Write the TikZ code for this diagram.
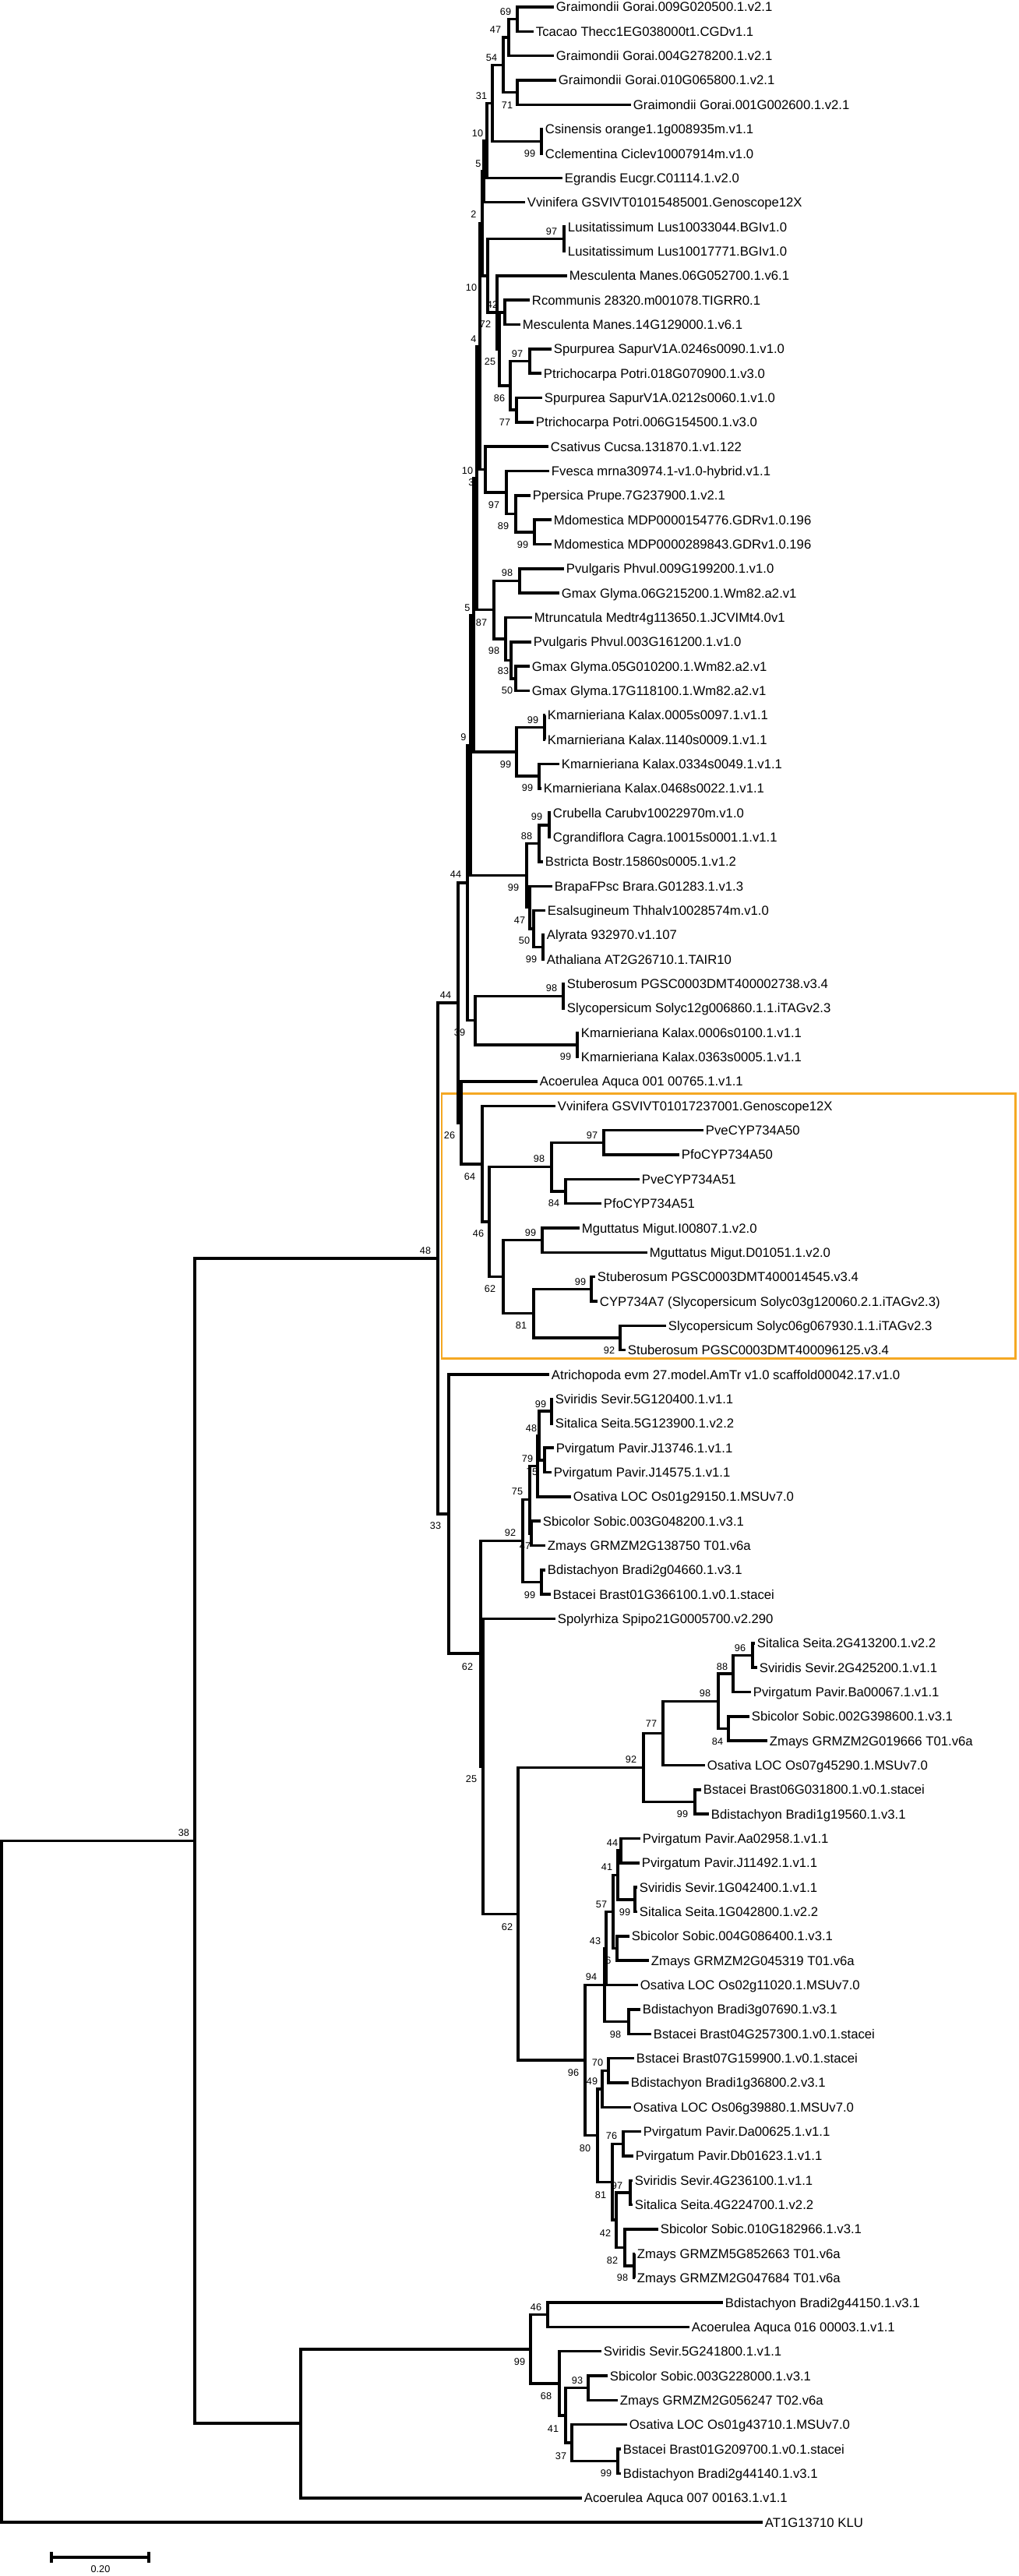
\documentclass[tikz,border=0pt]{standalone}
\usepackage{fontspec}
\setmainfont{Liberation Sans}
\definecolor{boxorange}{RGB}{245,168,35}

\begin{document}
\begin{tikzpicture}[x=0.2mm, y=-6.268mm,
    leaf/.style={anchor=west, inner sep=1.5pt, font=\fontsize{9.5}{11}\selectfont, text height=6.8pt, text depth=0pt},
    boot/.style={inner sep=0pt, font=\fontsize{7.2}{8}\selectfont, text height=5.2pt, text depth=0pt},
    branch/.style={line width=2pt, line join=miter},
    clade/.style={draw=boxorange, line width=1.7pt}
]
    \useasboundingbox (0,0.7128) rectangle (1308,106.2);

    % bootstrap values
    \node[boot] (b1) at (649,1.19) {69};
    \node[boot] (b2) at (636,1.93) {47};
    \node[boot] (b3) at (631,3.07) {54};
    \node[boot] (b4) at (618,4.64) {31};
    \node[boot] (b5) at (651,5.02) {71};
    \node[boot] (b6) at (613,6.17) {10};
    \node[boot] (b7) at (680,7.0) {99};
    \node[boot] (b8) at (614,7.41) {5};
    \node[boot] (b9) at (608,9.49) {2};
    \node[boot] (b10) at (708,10.19) {97};
    \node[boot] (b11) at (605,12.49) {10};
    \node[boot] (b12) at (632,13.19) {42};
    \node[boot] (b13) at (623,13.99) {72};
    \node[boot] (b14) at (608,14.59) {4};
    \node[boot] (b15) at (664,15.2) {97};
    \node[boot] (b16) at (629,15.52) {25};
    \node[boot] (b17) at (641,17.02) {86};
    \node[boot] (b18) at (648,18.0) {77};
    \node[boot] (b19) at (600,19.98) {10};
    \node[boot] (b20) at (605,20.46) {3};
    \node[boot] (b21) at (634,21.39) {97};
    \node[boot] (b22) at (646,22.25) {89};
    \node[boot] (b23) at (671,23.02) {99};
    \node[boot] (b24) at (651,24.17) {98};
    \node[boot] (b25) at (600,25.6) {5};
    \node[boot] (b26) at (618,26.21) {87};
    \node[boot] (b27) at (634,27.36) {98};
    \node[boot] (b28) at (646,28.19) {83};
    \node[boot] (b29) at (651,28.98) {50};
    \node[boot] (b30) at (684,30.2) {99};
    \node[boot] (b31) at (595,30.9) {9};
    \node[boot] (b32) at (649,32.01) {99};
    \node[boot] (b33) at (677,32.97) {99};
    \node[boot] (b34) at (689,34.15) {99};
    \node[boot] (b35) at (676,34.95) {88};
    \node[boot] (b36) at (585,36.51) {44};
    \node[boot] (b37) at (659,37.06) {99};
    \node[boot] (b38) at (667,38.4) {47};
    \node[boot] (b39) at (673,39.23) {50};
    \node[boot] (b40) at (682,39.99) {99};
    \node[boot] (b41) at (708,41.17) {98};
    \node[boot] (b42) at (572,41.46) {44};
    \node[boot] (b43) at (590,42.99) {39};
    \node[boot] (b44) at (726,43.98) {99};
    \node[boot] (b45) at (577,47.2) {26};
    \node[boot] (b46) at (760,47.2) {97};
    \node[boot] (b47) at (692,48.16) {98};
    \node[boot] (b48) at (603,48.89) {64};
    \node[boot] (b49) at (711,49.98) {84};
    \node[boot] (b50) at (681,51.19) {99};
    \node[boot] (b51) at (614,51.22) {46};
    \node[boot] (b52) at (546,51.93) {48};
    \node[boot] (b53) at (745,53.2) {99};
    \node[boot] (b54) at (629,53.49) {62};
    \node[boot] (b55) at (669,54.99) {81};
    \node[boot] (b56) at (782,56.01) {92};
    \node[boot] (b57) at (694,58.21) {99};
    \node[boot] (b58) at (682,59.2) {48};
    \node[boot] (b59) at (677,60.45) {79};
    \node[boot] (b60) at (683,60.99) {75};
    \node[boot] (b61) at (664,61.79) {75};
    \node[boot] (b62) at (559,63.19) {33};
    \node[boot] (b63) at (655,63.48) {92};
    \node[boot] (b64) at (674,64.02) {47};
    \node[boot] (b65) at (680,66.03) {99};
    \node[boot] (b66) at (950,68.2) {96};
    \node[boot] (b67) at (600,68.97) {62};
    \node[boot] (b68) at (927,68.97) {88};
    \node[boot] (b69) at (905,70.05) {98};
    \node[boot] (b70) at (836,71.3) {77};
    \node[boot] (b71) at (921,72.03) {84};
    \node[boot] (b72) at (810,72.76) {92};
    \node[boot] (b73) at (605,73.56) {25};
    \node[boot] (b74) at (876,75.0) {99};
    \node[boot] (b75) at (786,76.18) {44};
    \node[boot] (b76) at (779,77.17) {41};
    \node[boot] (b77) at (772,78.7) {57};
    \node[boot] (b78) at (802,79.02) {99};
    \node[boot] (b79) at (651,79.62) {62};
    \node[boot] (b80) at (764,80.2) {43};
    \node[boot] (b81) at (781,81.0) {6};
    \node[boot] (b82) at (759,81.66) {94};
    \node[boot] (b83) at (790,84.03) {98};
    \node[boot] (b84) at (767,85.18) {70};
    \node[boot] (b85) at (736,85.59) {96};
    \node[boot] (b86) at (760,85.94) {49};
    \node[boot] (b87) at (785,88.17) {76};
    \node[boot] (b88) at (751,88.68) {80};
    \node[boot] (b89) at (792,90.22) {97};
    \node[boot] (b90) at (771,90.6) {81};
    \node[boot] (b91) at (777,92.16) {42};
    \node[boot] (b92) at (786,93.28) {82};
    \node[boot] (b93) at (799,93.98) {98};
    \node[boot] (b94) at (688,95.19) {46};
    \node[boot] (b95) at (667,97.43) {99};
    \node[boot] (b96) at (741,98.19) {93};
    \node[boot] (b97) at (701,98.83) {68};
    \node[boot] (b98) at (710,100.17) {41};
    \node[boot] (b99) at (720,101.29) {37};
    \node[boot] (b100) at (778,101.99) {99};
    \node[boot] (b101) at (236,75.75) {38};

    % leaves
    \node[leaf] (l1) at (711,1) {Graimondii Gorai.009G020500.1.v2.1};
    \node[leaf] (l2) at (685,2) {Tcacao Thecc1EG038000t1.CGDv1.1};
    \node[leaf] (l3) at (711,3) {Graimondii Gorai.004G278200.1.v2.1};
    \node[leaf] (l4) at (714,4) {Graimondii Gorai.010G065800.1.v2.1};
    \node[leaf] (l5) at (810,5) {Graimondii Gorai.001G002600.1.v2.1};
    \node[leaf] (l6) at (697,6) {Csinensis orange1.1g008935m.v1.1};
    \node[leaf] (l7) at (697,7) {Cclementina Ciclev10007914m.v1.0};
    \node[leaf] (l8) at (722,8) {Egrandis Eucgr.C01114.1.v2.0};
    \node[leaf] (l9) at (674,9) {Vvinifera GSVIVT01015485001.Genoscope12X};
    \node[leaf] (l10) at (726,10) {Lusitatissimum Lus10033044.BGIv1.0};
    \node[leaf] (l11) at (726,11) {Lusitatissimum Lus10017771.BGIv1.0};
    \node[leaf] (l12) at (728,12) {Mesculenta Manes.06G052700.1.v6.1};
    \node[leaf] (l13) at (680,13) {Rcommunis 28320.m001078.TIGRR0.1};
    \node[leaf] (l14) at (668,14) {Mesculenta Manes.14G129000.1.v6.1};
    \node[leaf] (l15) at (708,15) {Spurpurea SapurV1A.0246s0090.1.v1.0};
    \node[leaf] (l16) at (695,16) {Ptrichocarpa Potri.018G070900.1.v3.0};
    \node[leaf] (l17) at (696,17) {Spurpurea SapurV1A.0212s0060.1.v1.0};
    \node[leaf] (l18) at (685,18) {Ptrichocarpa Potri.006G154500.1.v3.0};
    \node[leaf] (l19) at (704,19) {Csativus Cucsa.131870.1.v1.122};
    \node[leaf] (l20) at (705,20) {Fvesca mrna30974.1-v1.0-hybrid.v1.1};
    \node[leaf] (l21) at (681,21) {Ppersica Prupe.7G237900.1.v2.1};
    \node[leaf] (l22) at (708,22) {Mdomestica MDP0000154776.GDRv1.0.196};
    \node[leaf] (l23) at (708,23) {Mdomestica MDP0000289843.GDRv1.0.196};
    \node[leaf] (l24) at (724,24) {Pvulgaris Phvul.009G199200.1.v1.0};
    \node[leaf] (l25) at (718,25) {Gmax Glyma.06G215200.1.Wm82.a2.v1};
    \node[leaf] (l26) at (683,26) {Mtruncatula Medtr4g113650.1.JCVIMt4.0v1};
    \node[leaf] (l27) at (682,27) {Pvulgaris Phvul.003G161200.1.v1.0};
    \node[leaf] (l28) at (680,28) {Gmax Glyma.05G010200.1.Wm82.a2.v1};
    \node[leaf] (l29) at (680,29) {Gmax Glyma.17G118100.1.Wm82.a2.v1};
    \node[leaf] (l30) at (700,30) {Kmarnieriana Kalax.0005s0097.1.v1.1};
    \node[leaf] (l31) at (700,31) {Kmarnieriana Kalax.1140s0009.1.v1.1};
    \node[leaf] (l32) at (718,32) {Kmarnieriana Kalax.0334s0049.1.v1.1};
    \node[leaf] (l33) at (695,33) {Kmarnieriana Kalax.0468s0022.1.v1.1};
    \node[leaf] (l34) at (707,34) {Crubella Carubv10022970m.v1.0};
    \node[leaf] (l35) at (707,35) {Cgrandiflora Cagra.10015s0001.1.v1.1};
    \node[leaf] (l36) at (697,36) {Bstricta Bostr.15860s0005.1.v1.2};
    \node[leaf] (l37) at (709,37) {BrapaFPsc Brara.G01283.1.v1.3};
    \node[leaf] (l38) at (700,38) {Esalsugineum Thhalv10028574m.v1.0};
    \node[leaf] (l39) at (699,39) {Alyrata 932970.v1.107};
    \node[leaf] (l40) at (699,40) {Athaliana AT2G26710.1.TAIR10};
    \node[leaf] (l41) at (725,41) {Stuberosum PGSC0003DMT400002738.v3.4};
    \node[leaf] (l42) at (725,42) {Slycopersicum Solyc12g006860.1.1.iTAGv2.3};
    \node[leaf] (l43) at (743,43) {Kmarnieriana Kalax.0006s0100.1.v1.1};
    \node[leaf] (l44) at (743,44) {Kmarnieriana Kalax.0363s0005.1.v1.1};
    \node[leaf] (l45) at (690,45) {Acoerulea Aquca 001 00765.1.v1.1};
    \node[leaf] (l46) at (713,46) {Vvinifera GSVIVT01017237001.Genoscope12X};
    \node[leaf] (l47) at (903,47) {PveCYP734A50};
    \node[leaf] (l48) at (872,48) {PfoCYP734A50};
    \node[leaf] (l49) at (821,49) {PveCYP734A51};
    \node[leaf] (l50) at (772,50) {PfoCYP734A51};
    \node[leaf] (l51) at (744,51) {Mguttatus Migut.I00807.1.v2.0};
    \node[leaf] (l52) at (831,52) {Mguttatus Migut.D01051.1.v2.0};
    \node[leaf] (l53) at (764,53) {Stuberosum PGSC0003DMT400014545.v3.4};
    \node[leaf] (l54) at (767,54) {CYP734A7 (Slycopersicum Solyc03g120060.2.1.iTAGv2.3)};
    \node[leaf] (l55) at (855,55) {Slycopersicum Solyc06g067930.1.1.iTAGv2.3};
    \node[leaf] (l56) at (803,56) {Stuberosum PGSC0003DMT400096125.v3.4};
    \node[leaf] (l57) at (705,57) {Atrichopoda evm 27.model.AmTr v1.0 scaffold00042.17.v1.0};
    \node[leaf] (l58) at (710,58) {Sviridis Sevir.5G120400.1.v1.1};
    \node[leaf] (l59) at (710,59) {Sitalica Seita.5G123900.1.v2.2};
    \node[leaf] (l60) at (711,60) {Pvirgatum Pavir.J13746.1.v1.1};
    \node[leaf] (l61) at (708,61) {Pvirgatum Pavir.J14575.1.v1.1};
    \node[leaf] (l62) at (733,62) {Osativa LOC Os01g29150.1.MSUv7.0};
    \node[leaf] (l63) at (694,63) {Sbicolor Sobic.003G048200.1.v3.1};
    \node[leaf] (l64) at (700,64) {Zmays GRMZM2G138750 T01.v6a};
    \node[leaf] (l65) at (700,65) {Bdistachyon Bradi2g04660.1.v3.1};
    \node[leaf] (l66) at (707,66) {Bstacei Brast01G366100.1.v0.1.stacei};
    \node[leaf] (l67) at (713,67) {Spolyrhiza Spipo21G0005700.v2.290};
    \node[leaf] (l68) at (969,68) {Sitalica Seita.2G413200.1.v2.2};
    \node[leaf] (l69) at (972,69) {Sviridis Sevir.2G425200.1.v1.1};
    \node[leaf] (l70) at (964,70) {Pvirgatum Pavir.Ba00067.1.v1.1};
    \node[leaf] (l71) at (962,71) {Sbicolor Sobic.002G398600.1.v3.1};
    \node[leaf] (l72) at (985,72) {Zmays GRMZM2G019666 T01.v6a};
    \node[leaf] (l73) at (905,73) {Osativa LOC Os07g45290.1.MSUv7.0};
    \node[leaf] (l74) at (900,74) {Bstacei Brast06G031800.1.v0.1.stacei};
    \node[leaf] (l75) at (910,75) {Bdistachyon Bradi1g19560.1.v3.1};
    \node[leaf] (l76) at (822,76) {Pvirgatum Pavir.Aa02958.1.v1.1};
    \node[leaf] (l77) at (821,77) {Pvirgatum Pavir.J11492.1.v1.1};
    \node[leaf] (l78) at (818,78) {Sviridis Sevir.1G042400.1.v1.1};
    \node[leaf] (l79) at (818,79) {Sitalica Seita.1G042800.1.v2.2};
    \node[leaf] (l80) at (808,80) {Sbicolor Sobic.004G086400.1.v3.1};
    \node[leaf] (l81) at (833,81) {Zmays GRMZM2G045319 T01.v6a};
    \node[leaf] (l82) at (819,82) {Osativa LOC Os02g11020.1.MSUv7.0};
    \node[leaf] (l83) at (822,83) {Bdistachyon Bradi3g07690.1.v3.1};
    \node[leaf] (l84) at (836,84) {Bstacei Brast04G257300.1.v0.1.stacei};
    \node[leaf] (l85) at (814,85) {Bstacei Brast07G159900.1.v0.1.stacei};
    \node[leaf] (l86) at (807,86) {Bdistachyon Bradi1g36800.2.v3.1};
    \node[leaf] (l87) at (810,87) {Osativa LOC Os06g39880.1.MSUv7.0};
    \node[leaf] (l88) at (823,88) {Pvirgatum Pavir.Da00625.1.v1.1};
    \node[leaf] (l89) at (813,89) {Pvirgatum Pavir.Db01623.1.v1.1};
    \node[leaf] (l90) at (812,90) {Sviridis Sevir.4G236100.1.v1.1};
    \node[leaf] (l91) at (812,91) {Sitalica Seita.4G224700.1.v2.2};
    \node[leaf] (l92) at (845,92) {Sbicolor Sobic.010G182966.1.v3.1};
    \node[leaf] (l93) at (815,93) {Zmays GRMZM5G852663 T01.v6a};
    \node[leaf] (l94) at (815,94) {Zmays GRMZM2G047684 T01.v6a};
    \node[leaf] (l95) at (928,95) {Bdistachyon Bradi2g44150.1.v3.1};
    \node[leaf] (l96) at (885,96) {Acoerulea Aquca 016 00003.1.v1.1};
    \node[leaf] (l97) at (772,97) {Sviridis Sevir.5G241800.1.v1.1};
    \node[leaf] (l98) at (780,98) {Sbicolor Sobic.003G228000.1.v3.1};
    \node[leaf] (l99) at (793,99) {Zmays GRMZM2G056247 T02.v6a};
    \node[leaf] (l100) at (805,100) {Osativa LOC Os01g43710.1.MSUv7.0};
    \node[leaf] (l101) at (797,101) {Bstacei Brast01G209700.1.v0.1.stacei};
    \node[leaf] (l102) at (797,102) {Bdistachyon Bradi2g44140.1.v3.1};
    \node[leaf] (l103) at (747,103) {Acoerulea Aquca 007 00163.1.v1.1};
    \node[leaf] (l104) at (979,104) {AT1G13710 KLU};

    % inner nodes
    \coordinate (n1) at (664,1.5);
    \coordinate (n2) at (653,2.25);
    \coordinate (n3) at (664,4.5);
    \coordinate (n4) at (646,3.375);
    \coordinate (n5) at (695,6.5);
    \coordinate (n6) at (632,4.9375);
    \coordinate (n7) at (625,6.46875);
    \coordinate (n8) at (621,7.734);
    \coordinate (n9) at (724,10.5);
    \coordinate (n10) at (648,13.5);
    \coordinate (n11) at (680,15.5);
    \coordinate (n12) at (663,17.5);
    \coordinate (n13) at (655,16.5);
    \coordinate (n14) at (641,15);
    \coordinate (n15) at (638,13.5);
    \coordinate (n16) at (626,12);
    \coordinate (n17) at (619,9.867);
    \coordinate (n18) at (686,22.5);
    \coordinate (n19) at (662,21.75);
    \coordinate (n20) at (650,20.875);
    \coordinate (n21) at (623,19.9375);
    \coordinate (n22) at (616,14.902);
    \coordinate (n23) at (667,24.5);
    \coordinate (n24) at (662,28.5);
    \coordinate (n25) at (656,27.75);
    \coordinate (n26) at (649,26.875);
    \coordinate (n27) at (634,25.6875);
    \coordinate (n28) at (612,20.295);
    \coordinate (n29) at (699,30.5);
    \coordinate (n30) at (692,32.5);
    \coordinate (n31) at (663,31.5);
    \coordinate (n32) at (608,25.898);
    \coordinate (n33) at (705,34.5);
    \coordinate (n34) at (692,35.25);
    \coordinate (n35) at (697,39.5);
    \coordinate (n36) at (685,38.75);
    \coordinate (n37) at (680,37.875);
    \coordinate (n38) at (676,36.5625);
    \coordinate (n39) at (604,31.23);
    \coordinate (n40) at (723,41.5);
    \coordinate (n41) at (741,43.5);
    \coordinate (n42) at (610,42.5);
    \coordinate (n43) at (600,36.865);
    \coordinate (n44) at (775,47.5);
    \coordinate (n45) at (726,49.5);
    \coordinate (n46) at (708,48.5);
    \coordinate (n47) at (696,51.5);
    \coordinate (n48) at (759,53.5);
    \coordinate (n49) at (796,55.5);
    \coordinate (n50) at (685,54.5);
    \coordinate (n51) at (646,53);
    \coordinate (n52) at (628,50.75);
    \coordinate (n53) at (619,48.375);
    \coordinate (n54) at (592,46.6875);
    \coordinate (n55) at (588,41.776);
    \coordinate (n56) at (708,58.5);
    \coordinate (n57) at (699,60.5);
    \coordinate (n58) at (692,59.5);
    \coordinate (n59) at (690,60.75);
    \coordinate (n60) at (682,63.5);
    \coordinate (n61) at (680,62.125);
    \coordinate (n62) at (695,65.5);
    \coordinate (n63) at (671,63.8125);
    \coordinate (n64) at (966,68.5);
    \coordinate (n65) at (941,69.25);
    \coordinate (n66) at (935,71.5);
    \coordinate (n67) at (922,70.375);
    \coordinate (n68) at (851,71.6875);
    \coordinate (n69) at (892,74.5);
    \coordinate (n70) at (826,73.094);
    \coordinate (n71) at (797,76.5);
    \coordinate (n72) at (815,78.5);
    \coordinate (n73) at (793,77.5);
    \coordinate (n74) at (792,80.5);
    \coordinate (n75) at (787,79);
    \coordinate (n76) at (778,80.5);
    \coordinate (n77) at (807,83.5);
    \coordinate (n78) at (776,82);
    \coordinate (n79) at (781,85.5);
    \coordinate (n80) at (773,86.25);
    \coordinate (n81) at (800,88.5);
    \coordinate (n82) at (809,90.5);
    \coordinate (n83) at (814,93.5);
    \coordinate (n84) at (802,92.75);
    \coordinate (n85) at (791,91.625);
    \coordinate (n86) at (786,90.0625);
    \coordinate (n87) at (767,88.156);
    \coordinate (n88) at (751,85.078);
    \coordinate (n89) at (665,79.086);
    \coordinate (n90) at (620,73.043);
    \coordinate (n91) at (617,68.428);
    \coordinate (n92) at (576,62.714);
    \coordinate (n93) at (562,52.245);
    \coordinate (n94) at (703,95.5);
    \coordinate (n95) at (755,98.5);
    \coordinate (n96) at (793,101.5);
    \coordinate (n97) at (734,100.75);
    \coordinate (n98) at (726,99.625);
    \coordinate (n99) at (718,98.3125);
    \coordinate (n100) at (681,96.906);
    \coordinate (n101) at (386,99.953);
    \coordinate (n102) at (250,76.099);
    \coordinate (n103) at (2,90.05);

    % highlighted clade
    \draw[clade] (567,45.48) rectangle (1303,56.33);

    % branches
    \draw[branch] (n1) |- (l1.west) (n1) |- (l2.west);
    \draw[branch] (n2) |- (n1) (n2) |- (l3.west);
    \draw[branch] (n3) |- (l4.west) (n3) |- (l5.west);
    \draw[branch] (n4) |- (n2) (n4) |- (n3);
    \draw[branch] (n5) |- (l6.west) (n5) |- (l7.west);
    \draw[branch] (n6) |- (n4) (n6) |- (n5);
    \draw[branch] (n7) |- (n6) (n7) |- (l8.west);
    \draw[branch] (n8) |- (n7) (n8) |- (l9.west);
    \draw[branch] (n9) |- (l10.west) (n9) |- (l11.west);
    \draw[branch] (n10) |- (l13.west) (n10) |- (l14.west);
    \draw[branch] (n11) |- (l15.west) (n11) |- (l16.west);
    \draw[branch] (n12) |- (l17.west) (n12) |- (l18.west);
    \draw[branch] (n13) |- (n11) (n13) |- (n12);
    \draw[branch] (n14) |- (n10) (n14) |- (n13);
    \draw[branch] (n15) |- (l12.west) (n15) |- (n14);
    \draw[branch] (n16) |- (n9) (n16) |- (n15);
    \draw[branch] (n17) |- (n8) (n17) |- (n16);
    \draw[branch] (n18) |- (l22.west) (n18) |- (l23.west);
    \draw[branch] (n19) |- (l21.west) (n19) |- (n18);
    \draw[branch] (n20) |- (l20.west) (n20) |- (n19);
    \draw[branch] (n21) |- (l19.west) (n21) |- (n20);
    \draw[branch] (n22) |- (n17) (n22) |- (n21);
    \draw[branch] (n23) |- (l24.west) (n23) |- (l25.west);
    \draw[branch] (n24) |- (l28.west) (n24) |- (l29.west);
    \draw[branch] (n25) |- (l27.west) (n25) |- (n24);
    \draw[branch] (n26) |- (l26.west) (n26) |- (n25);
    \draw[branch] (n27) |- (n23) (n27) |- (n26);
    \draw[branch] (n28) |- (n22) (n28) |- (n27);
    \draw[branch] (n29) |- (l30.west) (n29) |- (l31.west);
    \draw[branch] (n30) |- (l32.west) (n30) |- (l33.west);
    \draw[branch] (n31) |- (n29) (n31) |- (n30);
    \draw[branch] (n32) |- (n28) (n32) |- (n31);
    \draw[branch] (n33) |- (l34.west) (n33) |- (l35.west);
    \draw[branch] (n34) |- (n33) (n34) |- (l36.west);
    \draw[branch] (n35) |- (l39.west) (n35) |- (l40.west);
    \draw[branch] (n36) |- (l38.west) (n36) |- (n35);
    \draw[branch] (n37) |- (l37.west) (n37) |- (n36);
    \draw[branch] (n38) |- (n34) (n38) |- (n37);
    \draw[branch] (n39) |- (n32) (n39) |- (n38);
    \draw[branch] (n40) |- (l41.west) (n40) |- (l42.west);
    \draw[branch] (n41) |- (l43.west) (n41) |- (l44.west);
    \draw[branch] (n42) |- (n40) (n42) |- (n41);
    \draw[branch] (n43) |- (n39) (n43) |- (n42);
    \draw[branch] (n44) |- (l47.west) (n44) |- (l48.west);
    \draw[branch] (n45) |- (l49.west) (n45) |- (l50.west);
    \draw[branch] (n46) |- (n44) (n46) |- (n45);
    \draw[branch] (n47) |- (l51.west) (n47) |- (l52.west);
    \draw[branch] (n48) |- (l53.west) (n48) |- (l54.west);
    \draw[branch] (n49) |- (l55.west) (n49) |- (l56.west);
    \draw[branch] (n50) |- (n48) (n50) |- (n49);
    \draw[branch] (n51) |- (n47) (n51) |- (n50);
    \draw[branch] (n52) |- (n46) (n52) |- (n51);
    \draw[branch] (n53) |- (l46.west) (n53) |- (n52);
    \draw[branch] (n54) |- (l45.west) (n54) |- (n53);
    \draw[branch] (n55) |- (n43) (n55) |- (n54);
    \draw[branch] (n56) |- (l58.west) (n56) |- (l59.west);
    \draw[branch] (n57) |- (l60.west) (n57) |- (l61.west);
    \draw[branch] (n58) |- (n56) (n58) |- (n57);
    \draw[branch] (n59) |- (n58) (n59) |- (l62.west);
    \draw[branch] (n60) |- (l63.west) (n60) |- (l64.west);
    \draw[branch] (n61) |- (n59) (n61) |- (n60);
    \draw[branch] (n62) |- (l65.west) (n62) |- (l66.west);
    \draw[branch] (n63) |- (n61) (n63) |- (n62);
    \draw[branch] (n64) |- (l68.west) (n64) |- (l69.west);
    \draw[branch] (n65) |- (n64) (n65) |- (l70.west);
    \draw[branch] (n66) |- (l71.west) (n66) |- (l72.west);
    \draw[branch] (n67) |- (n65) (n67) |- (n66);
    \draw[branch] (n68) |- (n67) (n68) |- (l73.west);
    \draw[branch] (n69) |- (l74.west) (n69) |- (l75.west);
    \draw[branch] (n70) |- (n68) (n70) |- (n69);
    \draw[branch] (n71) |- (l76.west) (n71) |- (l77.west);
    \draw[branch] (n72) |- (l78.west) (n72) |- (l79.west);
    \draw[branch] (n73) |- (n71) (n73) |- (n72);
    \draw[branch] (n74) |- (l80.west) (n74) |- (l81.west);
    \draw[branch] (n75) |- (n73) (n75) |- (n74);
    \draw[branch] (n76) |- (n75) (n76) |- (l82.west);
    \draw[branch] (n77) |- (l83.west) (n77) |- (l84.west);
    \draw[branch] (n78) |- (n76) (n78) |- (n77);
    \draw[branch] (n79) |- (l85.west) (n79) |- (l86.west);
    \draw[branch] (n80) |- (n79) (n80) |- (l87.west);
    \draw[branch] (n81) |- (l88.west) (n81) |- (l89.west);
    \draw[branch] (n82) |- (l90.west) (n82) |- (l91.west);
    \draw[branch] (n83) |- (l93.west) (n83) |- (l94.west);
    \draw[branch] (n84) |- (l92.west) (n84) |- (n83);
    \draw[branch] (n85) |- (n82) (n85) |- (n84);
    \draw[branch] (n86) |- (n81) (n86) |- (n85);
    \draw[branch] (n87) |- (n80) (n87) |- (n86);
    \draw[branch] (n88) |- (n78) (n88) |- (n87);
    \draw[branch] (n89) |- (n70) (n89) |- (n88);
    \draw[branch] (n90) |- (l67.west) (n90) |- (n89);
    \draw[branch] (n91) |- (n63) (n91) |- (n90);
    \draw[branch] (n92) |- (l57.west) (n92) |- (n91);
    \draw[branch] (n93) |- (n55) (n93) |- (n92);
    \draw[branch] (n94) |- (l95.west) (n94) |- (l96.west);
    \draw[branch] (n95) |- (l98.west) (n95) |- (l99.west);
    \draw[branch] (n96) |- (l101.west) (n96) |- (l102.west);
    \draw[branch] (n97) |- (l100.west) (n97) |- (n96);
    \draw[branch] (n98) |- (n95) (n98) |- (n97);
    \draw[branch] (n99) |- (l97.west) (n99) |- (n98);
    \draw[branch] (n100) |- (n94) (n100) |- (n99);
    \draw[branch] (n101) |- (n100) (n101) |- (l103.west);
    \draw[branch] (n102) |- (n93) (n102) |- (n101);
    \draw[branch] (n103) |- (n102) (n103) |- (l104.west);

    % scale bar
    \draw[branch] (66,105.44) -- (191,105.44);
    \draw[branch] (66,105.22) -- (66,105.66);
    \draw[branch] (191,105.22) -- (191,105.66);
    \node[boot] (scale) at (129,105.91) {0.20};
\end{tikzpicture}
\end{document}
